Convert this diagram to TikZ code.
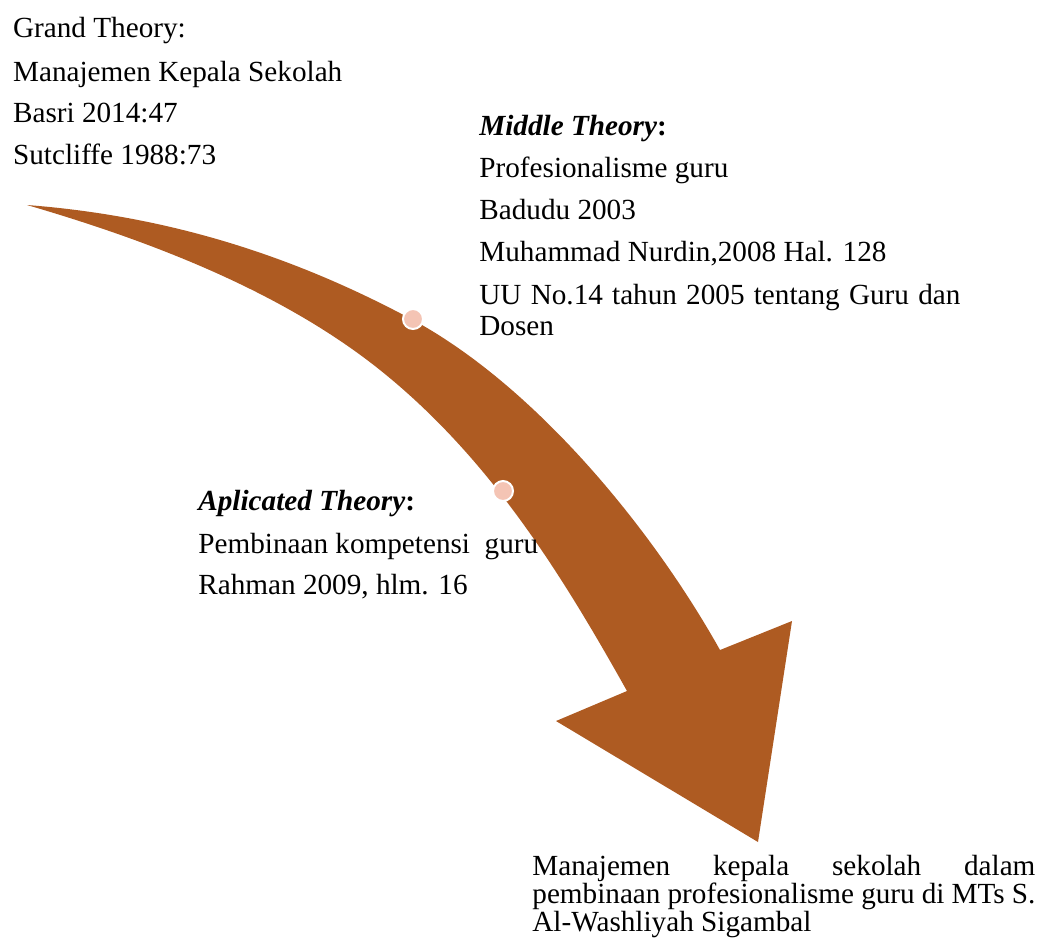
\documentclass[tikz,border=0pt]{standalone}
\usepackage{fontspec}
\setmainfont{Liberation Serif}

\definecolor{arrowbrown}{RGB}{174,91,34}
\definecolor{dotpink}{RGB}{244,196,180}

\tikzset{
  teks/.style={anchor=base west, inner sep=0pt, font=\fontsize{14.6pt}{17pt}\selectfont},
  titik/.style={circle, fill=dotpink, draw=white, line width=1pt, minimum size=10pt, inner sep=0pt}
}

\begin{document}
\begin{tikzpicture}[x=0.5pt, y=-0.5pt]
				\useasboundingbox (0,0) rectangle (1049,944);

				% Panah melengkung
				\fill[arrowbrown] (27,205) .. controls (157,215) and (283,250) .. (413,320)
					.. controls (533,385) and (650,525) .. (720,650)
					-- (792,621) -- (758,842) -- (556,721) -- (627,691)
					.. controls (562,575) and (490,458) .. (380,370)
					.. controls (280,290) and (147,240) .. (27,205) -- cycle;
				\node[titik] (t1) at (413,319) {};
				\node[titik] (t2) at (503,491) {};

				% Grand theory
				\node[teks] (g1) at (12.7,37.7) {Grand Theory:};
				\node[teks] (g2) at (12.7,81) {Manajemen Kepala Sekolah};
				\node[teks] (g3) at (12.7,122.7) {Basri 2014:47};
				\node[teks] (g4) at (12.7,164.3) {Sutcliffe 1988:73};

				% Middle theory
				\node[teks] (m1) at (479,135.7) {\textbf{\textit{Middle Theory}:}};
				\node[teks] (m2) at (479,177.7) {Profesionalisme guru};
				\node[teks] (m3) at (479,219.3) {Badudu 2003};
				\node[teks] (m4) at (479,261.7) {Muhammad Nurdin,2008 Hal. 128};
				\node[teks] (m5) at (479,304) {\makebox[240.5pt][s]{UU No.14 tahun 2005 tentang Guru dan}};
				\node[teks] (m6) at (479,335) {Dosen};

				% Aplicated theory
				\node[teks] (a1) at (198,510) {\textbf{\textit{Aplicated Theory}:}};
				\node[teks] (a2) at (198,553.3) {Pembinaan kompetensi\ \ guru};
				\node[teks] (a3) at (198,594.3) {Rahman 2009, hlm. 16};

				% Hasil
				\node[teks] (h1) at (532,875) {\makebox[251.5pt][s]{Manajemen kepala sekolah dalam}};
				\node[teks] (h2) at (532,903) {\makebox[251.5pt][s]{pembinaan profesionalisme guru di MTs S.}};
				\node[teks] (h3) at (532,931) {Al-Washliyah Sigambal};
			\end{tikzpicture}
\end{document}
